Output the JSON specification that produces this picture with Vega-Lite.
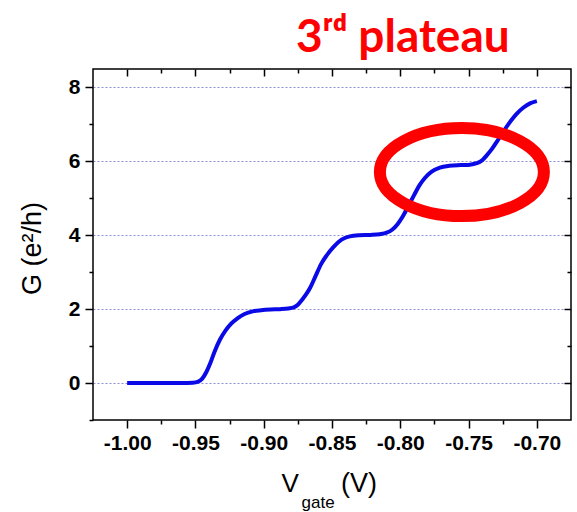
{
  "$schema": "https://vega.github.io/schema/vega-lite/v6.json",
  "autosize": "none",
  "width": 478,
  "height": 351,
  "padding": {"left": 93, "top": 69, "right": 6, "bottom": 92},
  "background": "white",
  "config": {
    "view": {"stroke": "black", "strokeWidth": 1.5},
    "axis": {"labelFont": "Liberation Sans", "titleFont": "Liberation Sans", "tickColor": "black", "tickWidth": 1.5, "labelColor": "black", "titleColor": "black", "domain": false, "grid": false}
  },
  "title": {"text": "3ʳᵈ plateau", "font": "Lato", "fontWeight": "bold", "fontSize": 46, "color": "#ff0000", "anchor": "start", "dx": 278, "offset": -30, "baseline": "alphabetic"},
  "datasets": {
    "curve": [
      {"v": -1.000, "g": 0.00}, {"v": -0.990, "g": 0.00}, {"v": -0.975, "g": 0.00}, {"v": -0.960, "g": 0.00},
      {"v": -0.952, "g": 0.01}, {"v": -0.948, "g": 0.04}, {"v": -0.945, "g": 0.12}, {"v": -0.942, "g": 0.30},
      {"v": -0.939, "g": 0.55}, {"v": -0.936, "g": 0.85}, {"v": -0.932, "g": 1.18}, {"v": -0.928, "g": 1.42},
      {"v": -0.924, "g": 1.60}, {"v": -0.919, "g": 1.76}, {"v": -0.914, "g": 1.87}, {"v": -0.908, "g": 1.94},
      {"v": -0.902, "g": 1.97}, {"v": -0.895, "g": 1.99}, {"v": -0.888, "g": 2.00}, {"v": -0.882, "g": 2.02},
      {"v": -0.878, "g": 2.05}, {"v": -0.875, "g": 2.12}, {"v": -0.872, "g": 2.25}, {"v": -0.869, "g": 2.40},
      {"v": -0.866, "g": 2.58}, {"v": -0.862, "g": 2.90}, {"v": -0.858, "g": 3.22}, {"v": -0.854, "g": 3.45},
      {"v": -0.849, "g": 3.68}, {"v": -0.843, "g": 3.88}, {"v": -0.837, "g": 3.97}, {"v": -0.830, "g": 4.00},
      {"v": -0.822, "g": 4.01}, {"v": -0.815, "g": 4.03}, {"v": -0.810, "g": 4.07}, {"v": -0.806, "g": 4.15},
      {"v": -0.802, "g": 4.30}, {"v": -0.798, "g": 4.52}, {"v": -0.794, "g": 4.80}, {"v": -0.790, "g": 5.08},
      {"v": -0.786, "g": 5.35}, {"v": -0.782, "g": 5.55}, {"v": -0.777, "g": 5.72}, {"v": -0.771, "g": 5.83},
      {"v": -0.764, "g": 5.88}, {"v": -0.756, "g": 5.90}, {"v": -0.749, "g": 5.91}, {"v": -0.744, "g": 5.95},
      {"v": -0.740, "g": 6.03}, {"v": -0.737, "g": 6.15}, {"v": -0.733, "g": 6.33}, {"v": -0.729, "g": 6.55},
      {"v": -0.725, "g": 6.78}, {"v": -0.720, "g": 7.05}, {"v": -0.715, "g": 7.28}, {"v": -0.710, "g": 7.45},
      {"v": -0.705, "g": 7.57}, {"v": -0.700, "g": 7.63}
    ]
  },
  "layer": [
    {
      "data": {"name": "curve"},
      "mark": {"type": "line", "color": "#0a0ae6", "strokeWidth": 4, "interpolate": "monotone"},
      "encoding": {
        "x": {"field": "v", "type": "quantitative", "scale": {"domain": [-1.025, -0.675], "nice": false, "zero": false},
          "axis": {"orient": "bottom", "values": [-1.0, -0.95, -0.9, -0.85, -0.8, -0.75, -0.7], "labelExpr": "replace(format(datum.value, '.2f'), '\u2212', '-')", "tickSize": 8, "labelFontSize": 21, "labelFontWeight": "bold", "labelPadding": 4, "title": null}},
        "y": {"field": "g", "type": "quantitative", "scale": {"domain": [-1, 8.5], "nice": false, "zero": false},
          "axis": {"orient": "left", "values": [0, 2, 4, 6, 8], "format": "d", "tickSize": 8, "labelFontSize": 21, "labelFontWeight": "bold", "labelPadding": 5,
            "grid": true, "gridDash": [2, 2], "gridColor": "#8c8cd8", "gridWidth": 1,
            "title": "G (e²/h)", "titleFontSize": 27, "titleFontWeight": "normal", "titleX": -53, "titleY": 179, "titleAngle": -90, "titleAlign": "center", "titleBaseline": "alphabetic"}}
      }
    },
    {
      "data": {"name": "curve"},
      "mark": {"type": "line", "opacity": 0},
      "encoding": {
        "x": {"field": "v", "type": "quantitative", "axis": {"orient": "bottom", "values": [-0.975, -0.925, -0.875, -0.825, -0.775, -0.725], "tickSize": 4, "labels": false, "title": null}},
        "y": {"field": "g", "type": "quantitative", "axis": {"orient": "left", "values": [-1, 1, 3, 5, 7], "tickSize": 4, "labels": false, "title": null}}
      }
    },
    {
      "data": {"name": "curve"},
      "mark": {"type": "line", "opacity": 0},
      "encoding": {
        "x": {"field": "v", "type": "quantitative", "axis": {"orient": "top", "values": [-1.0, -0.95, -0.9, -0.85, -0.8, -0.75, -0.7], "tickSize": 7, "offset": -7, "labels": false, "title": null}},
        "y": {"field": "g", "type": "quantitative", "axis": {"orient": "right", "values": [0, 2, 4, 6, 8], "tickSize": 7, "offset": -7, "labels": false, "title": null}}
      }
    },
    {
      "data": {"name": "curve"},
      "mark": {"type": "line", "opacity": 0},
      "encoding": {
        "x": {"field": "v", "type": "quantitative", "axis": {"orient": "top", "values": [-0.975, -0.925, -0.875, -0.825, -0.775, -0.725], "tickSize": 4, "offset": -4, "labels": false, "title": null}},
        "y": {"field": "g", "type": "quantitative", "axis": {"orient": "right", "values": [1, 3, 5, 7], "tickSize": 4, "offset": -4, "labels": false, "title": null}}
      }
    },
    {
      "data": {"values": [{"v": -0.7549, "g": 5.71}]},
      "mark": {"type": "point", "shape": "M-1,0A1,0.537,0,1,0,1,0A1,0.537,0,1,0,-1,0Z", "filled": false, "stroke": "#ff0000", "strokeWidth": 12, "size": 26896, "opacity": 1},
      "encoding": {
        "x": {"field": "v", "type": "quantitative", "axis": null},
        "y": {"field": "g", "type": "quantitative", "axis": null}
      }
    },
    {
      "data": {"values": [{"t": "V"}]},
      "mark": {"type": "text", "font": "Liberation Sans", "fontSize": 26, "align": "center", "baseline": "alphabetic", "color": "black"},
      "encoding": {
        "x": {"datum": -0.8807, "type": "quantitative", "axis": null},
        "y": {"datum": -2.95, "type": "quantitative", "axis": null},
        "text": {"field": "t"}
      }
    },
    {
      "data": {"values": [{"t": "gate"}]},
      "mark": {"type": "text", "font": "Liberation Sans", "fontSize": 17, "align": "center", "baseline": "alphabetic", "color": "black"},
      "encoding": {
        "x": {"datum": -0.8602, "type": "quantitative", "axis": null},
        "y": {"datum": -3.38, "type": "quantitative", "axis": null},
        "text": {"field": "t"}
      }
    },
    {
      "data": {"values": [{"t": "(V)"}]},
      "mark": {"type": "text", "font": "Liberation Sans", "fontSize": 27, "align": "center", "baseline": "alphabetic", "color": "black"},
      "encoding": {
        "x": {"datum": -0.8303, "type": "quantitative", "axis": null},
        "y": {"datum": -2.95, "type": "quantitative", "axis": null},
        "text": {"field": "t"}
      }
    }
  ],
  "resolve": {"axis": {"x": "independent", "y": "independent"}}
}
